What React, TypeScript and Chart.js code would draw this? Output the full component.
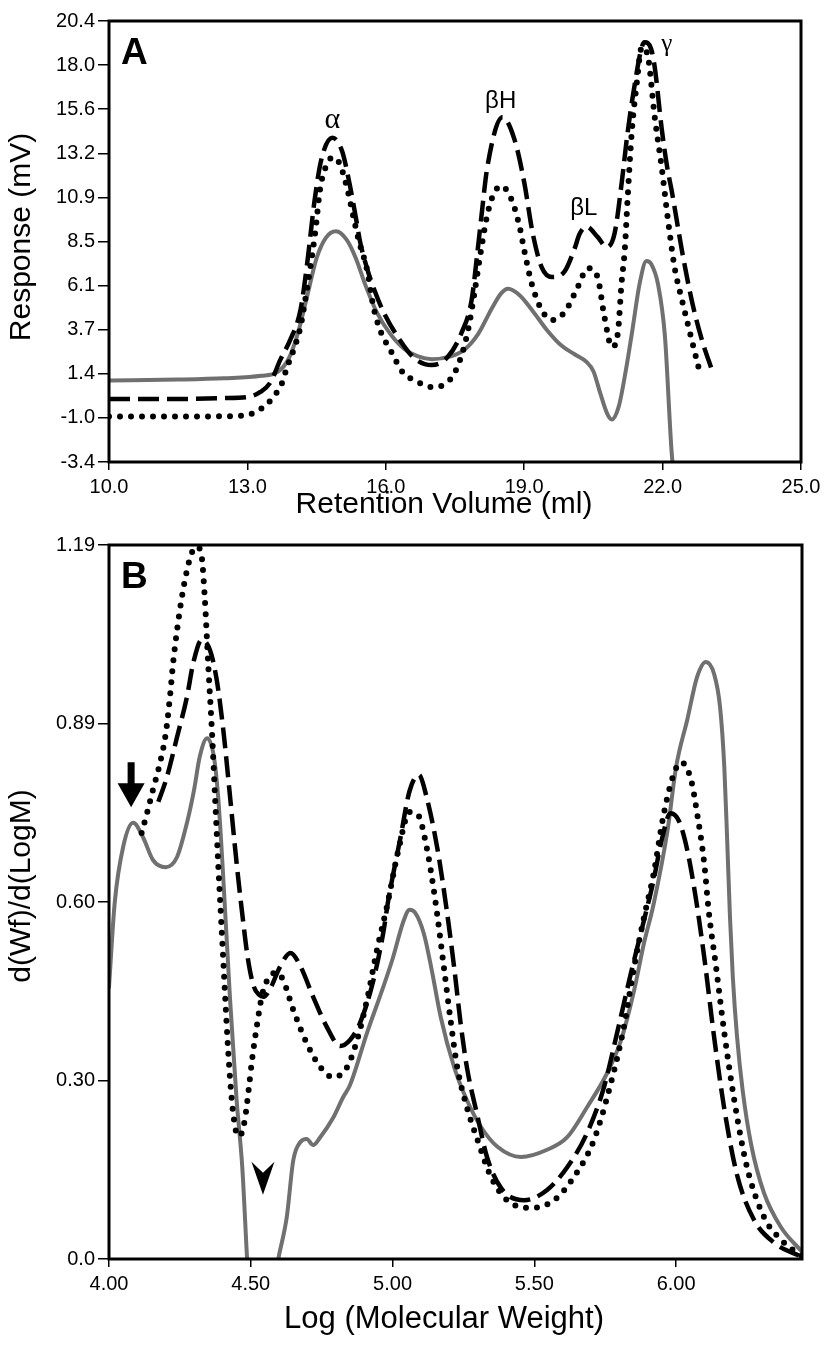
import React, { useEffect, useRef } from 'react';
import { Chart, registerables } from 'chart.js';

Chart.register(...registerables);

// ---------- Panel A : Retention Volume (ml) vs Response (mV) ----------
const grayAX = [10.0, 11.5, 12.5, 13.3, 13.65, 13.9, 14.1, 14.3, 14.5, 14.7, 14.92, 15.15, 15.35, 15.55, 15.8, 16.1, 16.4, 16.7, 17.0, 17.4, 17.7, 18.0, 18.3, 18.5, 18.65, 18.9, 19.2, 19.5, 19.8, 20.1, 20.35, 20.5, 20.65, 20.8, 20.9, 21.05, 21.2, 21.35, 21.5, 21.65, 21.75, 21.9, 22.05, 22.2, 22.35];
const grayAY = [1.0, 1.05, 1.12, 1.25, 1.45, 2.2, 3.6, 5.6, 7.6, 8.7, 9.05, 8.6, 7.6, 6.2, 4.7, 3.5, 2.7, 2.3, 2.15, 2.3, 2.65, 3.5, 4.9, 5.7, 5.95, 5.6, 4.7, 3.7, 2.9, 2.4, 2.0, 1.5, 0.3, -0.8, -1.1, -0.4, 1.5, 3.8, 6.2, 7.45, 7.3, 6.2, 3.4, -3.0, -6.0];

const dashedAX = [10.0, 11.5, 12.5, 13.0, 13.28, 13.5, 13.71, 13.93, 14.15, 14.3, 14.45, 14.6, 14.84, 15.05, 15.2, 15.35, 15.45, 15.6, 15.75, 15.95, 16.3, 16.62, 16.99, 17.34, 17.64, 17.86, 17.99, 18.07, 18.2, 18.53, 18.79, 19.0, 19.18, 19.38, 19.6, 19.88, 20.09, 20.2, 20.35, 20.59, 20.79, 20.96, 21.11, 21.24, 21.4, 21.55, 21.61, 21.75, 21.83, 21.98, 22.1, 22.2, 22.42, 22.63, 22.85, 23.07];
const dashedAY = [0.0, 0.0, 0.05, 0.1, 0.38, 0.9, 2.1, 3.2, 4.8, 7.4, 10.6, 12.9, 14.1, 13.4, 11.8, 9.8, 8.4, 7.0, 5.9, 4.7, 3.2, 2.2, 1.83, 2.26, 3.56, 5.34, 8.0, 9.8, 12.5, 15.2, 14.0, 11.7, 9.0, 7.1, 6.58, 6.9, 8.1, 8.9, 9.3, 8.75, 8.2, 8.95, 11.6, 14.35, 17.05, 19.0, 19.25, 18.9, 17.9, 14.6, 12.5, 11.2, 8.0, 5.34, 3.2, 1.56];

const dottedAX = [10.0, 11.5, 12.5, 12.9, 13.13, 13.35, 13.56, 13.75, 13.86, 14.0, 14.15, 14.25, 14.37, 14.47, 14.58, 14.73, 14.86, 15.0, 15.16, 15.3, 15.41, 15.6, 15.73, 15.88, 16.1, 16.38, 16.62, 16.99, 17.34, 17.55, 17.77, 17.92, 18.05, 18.18, 18.31, 18.5, 18.73, 18.9, 19.0, 19.16, 19.38, 19.6, 19.88, 20.16, 20.38, 20.59, 20.74, 20.9, 21.03, 21.11, 21.18, 21.24, 21.33, 21.44, 21.55, 21.68, 21.83, 21.98, 22.11, 22.26, 22.42, 22.63, 22.81];
const dottedAY = [-0.95, -0.95, -0.93, -0.9, -0.76, -0.43, 0.1, 0.86, 1.72, 2.64, 3.88, 5.3, 7.2, 9.0, 11.4, 12.7, 13.05, 12.7, 11.4, 9.8, 8.6, 6.9, 5.0, 3.7, 2.64, 1.4, 1.02, 0.65, 0.91, 1.72, 3.56, 5.7, 7.8, 9.7, 10.9, 11.5, 10.74, 9.3, 8.04, 6.25, 4.8, 4.26, 4.7, 6.04, 7.06, 6.58, 4.42, 2.8, 3.56, 6.25, 8.04, 10.74, 14.35, 17.05, 19.0, 18.5, 15.2, 12.5, 9.8, 7.1, 5.34, 3.2, 1.4];

const xTicksA = [10, 13, 16, 19, 22, 25];
const yTickLabelsA = ['-3.4', '-1.0', '1.4', '3.7', '6.1', '8.5', '10.9', '13.2', '15.6', '18.0', '20.4'];
const peakLabelsA = ['\u03b1', '\u03b2H', '\u03b2L', '\u03b3'];
const peakLabelXA = [14.84, 18.49, 20.29, 22.09];
const peakLabelYA = [15.05, 16.07, 10.3, 19.15];

// ---------- Panel B : Log (Molecular Weight) vs d(Wf)/d(LogM) ----------
const grayBX = [4.0, 4.02, 4.05, 4.085, 4.12, 4.155, 4.2, 4.24, 4.275, 4.3, 4.32, 4.346, 4.37, 4.385, 4.4, 4.427, 4.45, 4.47, 4.487, 4.51, 4.575, 4.597, 4.627, 4.65, 4.675, 4.697, 4.72, 4.745, 4.79, 4.826, 4.85, 4.91, 4.967, 5.0, 5.04, 5.06, 5.08, 5.11, 5.136, 5.17, 5.217, 5.262, 5.312, 5.37, 5.453, 5.545, 5.616, 5.686, 5.757, 5.806, 5.852, 5.887, 5.92, 5.97, 6.0, 6.04, 6.074, 6.105, 6.134, 6.155, 6.17, 6.18, 6.19, 6.2, 6.215, 6.235, 6.265, 6.31, 6.37, 6.444];
const grayBY = [0.453, 0.593, 0.687, 0.727, 0.703, 0.665, 0.653, 0.67, 0.727, 0.782, 0.837, 0.868, 0.837, 0.77, 0.66, 0.432, 0.265, 0.153, 0.0, -0.19, -0.06, 0.0, 0.07, 0.165, 0.195, 0.2, 0.19, 0.203, 0.235, 0.27, 0.29, 0.377, 0.453, 0.5, 0.565, 0.582, 0.577, 0.543, 0.487, 0.403, 0.32, 0.265, 0.22, 0.187, 0.17, 0.182, 0.203, 0.253, 0.31, 0.365, 0.448, 0.527, 0.59, 0.715, 0.82, 0.9, 0.97, 0.995, 0.975, 0.92, 0.82, 0.7, 0.57, 0.47, 0.37, 0.28, 0.19, 0.11, 0.053, 0.012];

const dashedBX = [4.174, 4.204, 4.24, 4.275, 4.297, 4.327, 4.356, 4.38, 4.403, 4.427, 4.45, 4.47, 4.49, 4.51, 4.53, 4.545, 4.568, 4.603, 4.64, 4.673, 4.72, 4.768, 4.815, 4.85, 4.885, 4.93, 4.967, 4.985, 5.027, 5.06, 5.093, 5.12, 5.157, 5.19, 5.217, 5.24, 5.262, 5.3, 5.333, 5.383, 5.464, 5.545, 5.616, 5.686, 5.746, 5.792, 5.841, 5.887, 5.92, 5.95, 5.98, 6.01, 6.04, 6.07, 6.1, 6.134, 6.17, 6.215, 6.275, 6.346, 6.427, 6.444];
const dashedBY = [0.762, 0.803, 0.87, 0.937, 0.993, 1.032, 1.015, 0.965, 0.882, 0.77, 0.66, 0.575, 0.5, 0.455, 0.44, 0.437, 0.45, 0.487, 0.51, 0.49, 0.437, 0.387, 0.355, 0.365, 0.393, 0.46, 0.543, 0.598, 0.7, 0.78, 0.807, 0.77, 0.687, 0.585, 0.487, 0.393, 0.32, 0.237, 0.17, 0.118, 0.098, 0.115, 0.153, 0.21, 0.287, 0.377, 0.477, 0.565, 0.63, 0.7, 0.743, 0.73, 0.68, 0.6, 0.5, 0.37, 0.25, 0.14, 0.065, 0.027, 0.007, 0.004];

const dottedBX = [4.115, 4.134, 4.155, 4.18, 4.2, 4.215, 4.226, 4.24, 4.257, 4.275, 4.292, 4.31, 4.327, 4.338, 4.35, 4.363, 4.374, 4.385, 4.395, 4.405, 4.415, 4.427, 4.44, 4.455, 4.468, 4.48, 4.492, 4.504, 4.522, 4.54, 4.565, 4.592, 4.614, 4.65, 4.697, 4.745, 4.79, 4.84, 4.875, 4.91, 4.945, 4.98, 5.02, 5.06, 5.09, 5.12, 5.15, 5.18, 5.206, 5.228, 5.262, 5.3, 5.347, 5.404, 5.488, 5.57, 5.64, 5.71, 5.77, 5.816, 5.852, 5.887, 5.92, 5.957, 5.993, 6.018, 6.053, 6.074, 6.099, 6.115, 6.14, 6.17, 6.205, 6.25, 6.31, 6.37, 6.427, 6.444];
const dottedBY = [0.71, 0.743, 0.782, 0.827, 0.875, 0.937, 0.993, 1.048, 1.103, 1.148, 1.177, 1.187, 1.17, 1.1, 0.99, 0.88, 0.77, 0.66, 0.57, 0.48, 0.39, 0.3, 0.235, 0.205, 0.21, 0.235, 0.28, 0.33, 0.39, 0.44, 0.47, 0.477, 0.465, 0.415, 0.36, 0.32, 0.303, 0.32, 0.365, 0.432, 0.515, 0.587, 0.68, 0.745, 0.74, 0.687, 0.6, 0.49, 0.393, 0.32, 0.253, 0.198, 0.137, 0.098, 0.085, 0.098, 0.137, 0.198, 0.293, 0.387, 0.487, 0.57, 0.64, 0.743, 0.81, 0.828, 0.798, 0.743, 0.66, 0.58, 0.49, 0.377, 0.265, 0.153, 0.07, 0.032, 0.01, 0.005];

const xTicksB = [4.0, 4.5, 5.0, 5.5, 6.0];
const yTickLabelsB = ['0.0', '0.30', '0.60', '0.89', '1.19'];
const downArrowX = [4.078];
const downArrowY = [0.753];
const arrowHeadX = [4.543];
const arrowHeadY = [0.107];

// ---------- styling ----------
const SANS = "'Liberation Sans', Arial, Helvetica, sans-serif";
const SERIF = "'Liberation Serif', 'Times New Roman', serif";
const GRAY = '#707070';

const zip = (xs: number[], ys: number[]) => xs.map((x, i) => ({ x, y: ys[i] }));

function seriesSet(gx: number[], gy: number[], dx: number[], dy: number[], ox: number[], oy: number[]) {
  const common = {
    pointRadius: 0,
    pointHoverRadius: 0,
    fill: false,
    cubicInterpolationMode: 'monotone' as const,
    clip: 0,
    borderJoinStyle: 'round' as const,
  };
  return [
    { ...common, label: 'gray', data: zip(gx, gy), borderColor: GRAY, borderWidth: 4, order: 3, borderCapStyle: 'round' as const },
    { ...common, label: 'dashed', data: zip(dx, dy), borderColor: '#000', borderWidth: 4.5, borderDash: [21, 8], order: 2, borderCapStyle: 'butt' as const },
    { ...common, label: 'dotted', data: zip(ox, oy), borderColor: '#000', borderWidth: 6, borderDash: [0, 11], order: 1, borderCapStyle: 'round' as const },
  ];
}

const framePlugin = {
  id: 'frame',
  afterDraw(chart: any) {
    const { ctx, chartArea: a } = chart;
    ctx.save();
    ctx.strokeStyle = '#000';
    ctx.lineWidth = 3;
    ctx.strokeRect(a.left, a.top, a.right - a.left, a.bottom - a.top);
    ctx.restore();
  },
};

function drawTitles(
  ctx: CanvasRenderingContext2D,
  xTitle: string, xSize: number, xCx: number, xCy: number,
  yTitle: string, ySize: number, yCx: number, yCy: number,
) {
  ctx.save();
  ctx.fillStyle = '#000';
  ctx.textAlign = 'center';
  ctx.textBaseline = 'middle';
  ctx.font = `${xSize}px ${SANS}`;
  ctx.fillText(xTitle, xCx, xCy);
  ctx.translate(yCx, yCy);
  ctx.rotate(-Math.PI / 2);
  ctx.font = `${ySize}px ${SANS}`;
  ctx.fillText(yTitle, 0, 0);
  ctx.restore();
}

function panelLetter(ctx: CanvasRenderingContext2D, chart: any, letter: string) {
  const a = chart.chartArea;
  ctx.save();
  ctx.fillStyle = '#000';
  ctx.font = `bold 37px ${SANS}`;
  ctx.textAlign = 'left';
  ctx.textBaseline = 'alphabetic';
  ctx.fillText(letter, a.left + 12, a.top + 43);
  ctx.restore();
}

function makeOptions(cfg: {
  xMin: number; xMax: number; xTicks: number[]; xDigits: number;
  yMin: number; yMax: number; yLabels: string[];
  padTop: number; padRight: number; xAxisHeight: number;
}) {
  return {
    responsive: false,
    animation: false as const,
    events: [] as any[],
    layout: { padding: { top: cfg.padTop, right: cfg.padRight, bottom: 0, left: 0 } },
    plugins: { legend: { display: false }, tooltip: { enabled: false } },
    scales: {
      x: {
        type: 'linear' as const,
        min: cfg.xMin,
        max: cfg.xMax,
        afterBuildTicks: (s: any) => { s.ticks = cfg.xTicks.map((v) => ({ value: v })); },
        afterFit: (s: any) => { s.height = cfg.xAxisHeight; },
        grid: { drawOnChartArea: false, drawTicks: true, tickLength: 8, color: '#000', lineWidth: 1.5 },
        border: { display: false },
        ticks: {
          color: '#000', padding: 5, maxRotation: 0, autoSkip: false,
          font: { family: SANS, size: 20 },
          callback: (v: any) => Number(v).toFixed(cfg.xDigits),
        },
        title: { display: false },
      },
      y: {
        type: 'linear' as const,
        min: cfg.yMin,
        max: cfg.yMax,
        afterBuildTicks: (s: any) => {
          const n = cfg.yLabels.length;
          s.ticks = cfg.yLabels.map((_, i) => ({ value: cfg.yMin + (i * (cfg.yMax - cfg.yMin)) / (n - 1) }));
        },
        afterFit: (s: any) => { s.width = 109; },
        grid: { drawOnChartArea: false, drawTicks: true, tickLength: 11, color: '#000', lineWidth: 1.5 },
        border: { display: false },
        ticks: {
          color: '#000', padding: 3, autoSkip: false,
          font: { family: SANS, size: 20 },
          callback: (_v: any, i: number) => cfg.yLabels[i],
        },
        title: { display: false },
      },
    },
  };
}

function PanelA() {
  const ref = useRef<HTMLCanvasElement | null>(null);
  useEffect(() => {
    if (!ref.current) return;
    const labelPlugin = {
      id: 'peakLabels',
      afterDatasetsDraw(chart: any) {
        const { ctx, scales } = chart;
        ctx.save();
        ctx.fillStyle = '#000';
        ctx.textAlign = 'center';
        ctx.textBaseline = 'middle';
        peakLabelsA.forEach((t, i) => {
          const serif = t === '\u03b1' || t === '\u03b3';
          ctx.font = serif ? `${t === '\u03b1' ? 30 : 25}px ${SERIF}` : `24px ${SANS}`;
          ctx.fillText(t, scales.x.getPixelForValue(peakLabelXA[i]), scales.y.getPixelForValue(peakLabelYA[i]));
        });
        ctx.restore();
        panelLetter(ctx, chart, 'A');
      },
      afterDraw(chart: any) {
        drawTitles(chart.ctx, 'Retention Volume (ml)', 30, 444, 505, 'Response (mV)', 30, 22, 237);
      },
    };
    const chart = new Chart(ref.current, {
      type: 'line',
      data: { datasets: seriesSet(grayAX, grayAY, dashedAX, dashedAY, dottedAX, dottedAY) as any },
      options: makeOptions({
        xMin: 10, xMax: 25, xTicks: xTicksA, xDigits: 1,
        yMin: -3.4, yMax: 20.4, yLabels: yTickLabelsA,
        padTop: 21, padRight: 27, xAxisHeight: 68,
      }) as any,
      plugins: [labelPlugin, framePlugin],
    });
    return () => chart.destroy();
  }, []);
  return <canvas ref={ref} width={828} height={530} style={{ display: 'block', width: 828, height: 530 }} />;
}

function PanelB() {
  const ref = useRef<HTMLCanvasElement | null>(null);
  useEffect(() => {
    if (!ref.current) return;
    const markPlugin = {
      id: 'marks',
      afterDatasetsDraw(chart: any) {
        const { ctx, scales } = chart;
        ctx.save();
        ctx.fillStyle = '#000';
        downArrowX.forEach((xv, i) => {
          const px = scales.x.getPixelForValue(xv);
          const py = scales.y.getPixelForValue(downArrowY[i]);
          ctx.beginPath();
          ctx.moveTo(px - 3.5, py - 45);
          ctx.lineTo(px + 3.5, py - 45);
          ctx.lineTo(px + 3.5, py - 24);
          ctx.lineTo(px + 13.5, py - 24);
          ctx.lineTo(px, py);
          ctx.lineTo(px - 13.5, py - 24);
          ctx.lineTo(px - 3.5, py - 24);
          ctx.closePath();
          ctx.fill();
        });
        arrowHeadX.forEach((xv, i) => {
          const px = scales.x.getPixelForValue(xv);
          const py = scales.y.getPixelForValue(arrowHeadY[i]);
          ctx.beginPath();
          ctx.moveTo(px, py);
          ctx.lineTo(px - 11.5, py - 33);
          ctx.lineTo(px, py - 22);
          ctx.lineTo(px + 11.5, py - 33);
          ctx.closePath();
          ctx.fill();
        });
        ctx.restore();
        panelLetter(ctx, chart, 'B');
      },
      afterDraw(chart: any) {
        drawTitles(chart.ctx, 'Log (Molecular Weight)', 31, 444, 789, 'd(Wf)/d(LogM)', 30, 22, 356);
      },
    };
    const chart = new Chart(ref.current, {
      type: 'line',
      data: { datasets: seriesSet(grayBX, grayBY, dashedBX, dashedBY, dottedBX, dottedBY) as any },
      options: makeOptions({
        xMin: 4.0, xMax: 6.444, xTicks: xTicksB, xDigits: 2,
        yMin: 0, yMax: 1.19, yLabels: yTickLabelsB,
        padTop: 15, padRight: 26, xAxisHeight: 91,
      }) as any,
      plugins: [markPlugin, framePlugin],
    });
    return () => chart.destroy();
  }, []);
  return <canvas ref={ref} width={828} height={820} style={{ display: 'block', width: 828, height: 820 }} />;
}

export default function App() {
  return (
    <div style={{ position: 'absolute', left: 0, top: 0, width: 828, height: 1350, background: '#fff', overflow: 'hidden' }}>
      <PanelA />
      <PanelB />
    </div>
  );
}
